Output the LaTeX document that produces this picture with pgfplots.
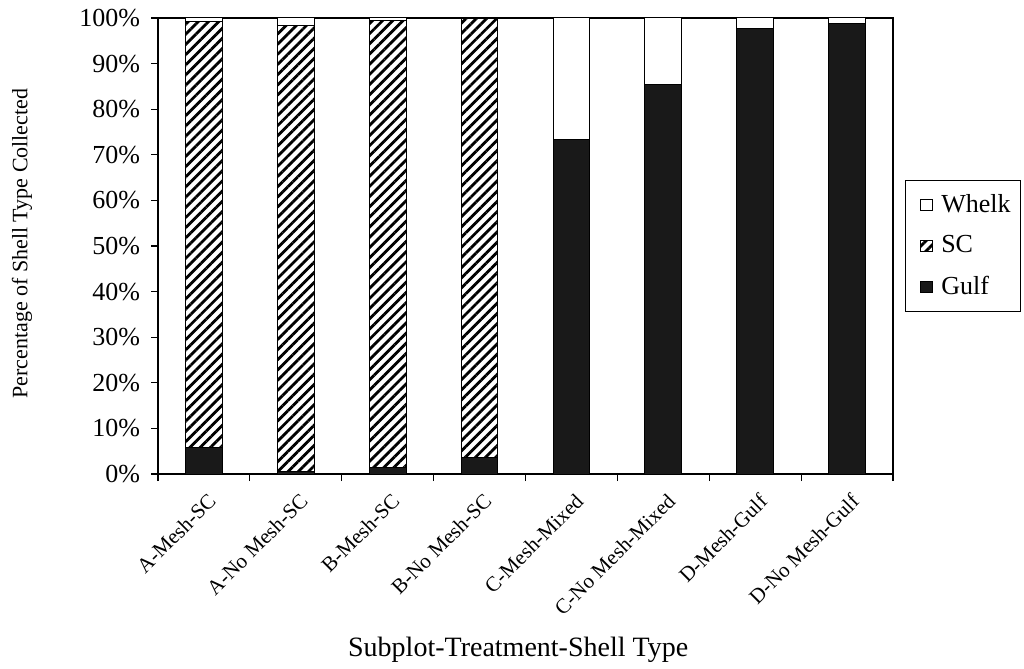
\documentclass[border=0pt]{standalone}
\usepackage{pgfplots}
\pgfplotsset{compat=1.18}
\usepackage{fontspec}
\setmainfont{Liberation Serif}
\usetikzlibrary{patterns.meta}

\begin{document}
\begin{tikzpicture}
\begin{axis}[
    name=main,
    scale only axis,
    width=367.5pt, height=228pt,
    ybar stacked,
    bar width=0.4,
    xmin=-0.5, xmax=7.5,
    ymin=0, ymax=100,
    xtick={-0.5,0.5,...,7.5},
    xticklabels={},
    extra x ticks={0,1,2,3,4,5,6,7},
    extra x tick labels={A-Mesh-SC, A-No Mesh-SC, B-Mesh-SC, B-No Mesh-SC, C-Mesh-Mixed, C-No Mesh-Mixed, D-Mesh-Gulf, D-No Mesh-Gulf},
    extra x tick style={major tick length=0pt, tick label style={rotate=45, anchor=north east, yshift=-4pt, xshift=-2pt, font=\fontsize{10.5}{12}\selectfont}},
    ytick={0,10,...,100},
    yticklabel={\pgfmathprintnumber{\tick}\%},
    /pgf/number format/assume math mode=true,
    yticklabel style={font=\fontsize{13}{15}\selectfont, xshift=-2pt},
    tick pos=left,
    tick align=outside,
    major tick length=3.5pt,
    axis line style={black, line width=0.6pt},
    tick style={black, line width=0.6pt},
    xlabel={Subplot-Treatment-Shell Type},
    xlabel style={font=\fontsize{14}{16}\selectfont, at={(0.49,-0.386)}, anchor=center},
    ylabel={Percentage of Shell Type Collected},
    ylabel style={font=\fontsize{11}{13}\selectfont, at={(-0.185,0.505)}, anchor=center},
    legend style={at={(1.016,0.5)}, anchor=west, draw=black, line width=0.5pt,
        font=\fontsize{13}{15}\selectfont, row sep=6pt, inner xsep=3pt, inner ysep=5pt,
        legend cell align=left},
    reverse legend,
    legend image code/.code={\path (0pt,0pt) (12.5pt,0pt); \draw[#1, line width=0.4pt] (4.5pt,-2.8pt) rectangle (10.1pt,2.8pt);},
]
\addplot+[draw=black, fill=black!90, line width=0.5pt] coordinates {
    (0,5.9) (1,0.5) (2,1.5) (3,3.7) (4,73.3) (5,85.5) (6,97.6) (7,98.9)
};
\addplot+[draw=black, pattern={Lines[angle=45,distance=3.6pt,line width=1.4pt]}, pattern color=black, line width=0.5pt] coordinates {
    (0,93.3) (1,97.9) (2,97.9) (3,96.2) (4,0) (5,0) (6,0) (7,0)
};
\addplot+[draw=black, fill=white, line width=0.5pt] coordinates {
    (0,0.8) (1,1.6) (2,0.6) (3,0.1) (4,26.7) (5,14.5) (6,2.4) (7,1.1)
};
\legend{Gulf, SC, Whelk}
\end{axis}
\pgfresetboundingbox
\path (main.south west) ++(-79pt,-97pt) coordinate (bl);
\path (main.north east) ++(65.5pt,9pt) coordinate (tr);
\path[use as bounding box] (bl) rectangle (tr);
\end{tikzpicture}
\end{document}
